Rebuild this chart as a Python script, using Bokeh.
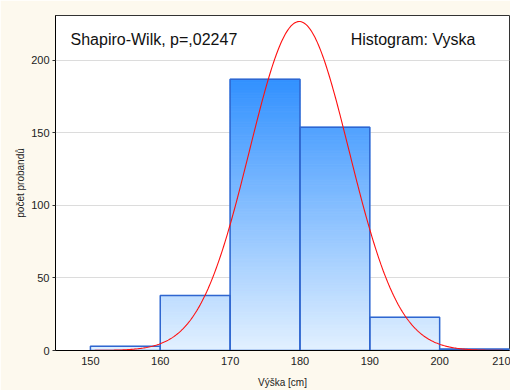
import numpy as np
from bokeh.plotting import figure
from bokeh.models import Label, FixedTicker
from bokeh.embed import file_html
from bokeh.resources import INLINE

# data
bin_left = [150, 160, 170, 180, 190, 200]
bin_right = [160, 170, 180, 190, 200, 210]
counts = [3, 38, 187, 154, 23, 1]
x_ticks = [150, 160, 170, 180, 190, 200, 210]
y_ticks = [0, 50, 100, 150, 200]
fit_mean = 179.9
fit_sd = 7.14
title_left = "Shapiro-Wilk, p=,02247"
title_right = "Histogram: Vyska"
x_label = "Výška [cm]"
y_label = "počet probandů"

FONT = "Liberation Sans"

p = figure(width=510, height=390, x_range=(145, 210), y_range=(0, 231),
           output_backend="svg", toolbar_location=None,
           min_border_left=55, min_border_right=1, min_border_top=15, min_border_bottom=40)
p.border_fill_color = "#fdf9ee"
p.background_fill_color = "white"
p.outline_line_color = "#333333"
p.outline_line_width = 1

p.xgrid.grid_line_color = None
p.ygrid.grid_line_color = "#dcdcdc"
p.ygrid.ticker = FixedTicker(ticks=y_ticks)

# gradient fill: horizontal slices of each bar coloured by height
c0 = np.array([227, 241, 255])
c1 = np.array([48, 144, 255])
def col(v):
    t = min(v / 190.0, 1.0)
    r, g, b = (c0 + (c1 - c0) * t).astype(int)
    return "#%02x%02x%02x" % (r, g, b)

L, R, B, T, C = [], [], [], [], []
for l, r, c in zip(bin_left, bin_right, counts):
    step = 1.0
    y = 0.0
    while y < c:
        top = min(y + step, c)
        L.append(l); R.append(r); B.append(y); T.append(top)
        C.append(col((y + top) / 2))
        y = top
p.quad(left=L, right=R, bottom=B, top=T, fill_color=C, line_color=C, line_width=1)

p.quad(left=bin_left, right=bin_right, bottom=0, top=counts,
       fill_alpha=0, line_color="#2f66d0", line_width=1.5)

xs = np.linspace(145, 210, 400)
n = sum(counts)
ys = n * 10 / (fit_sd * np.sqrt(2 * np.pi)) * np.exp(-0.5 * ((xs - fit_mean) / fit_sd) ** 2)
p.line(xs, ys, line_color="#ff1010", line_width=1.1)

# axes
p.xaxis.ticker = FixedTicker(ticks=x_ticks)
p.yaxis.ticker = FixedTicker(ticks=y_ticks)
for ax in (p.xaxis[0], p.yaxis[0]):
    ax.axis_line_color = "black"
    ax.major_label_text_font = FONT
    ax.major_label_text_font_size = "11px"
    ax.major_label_text_color = "#222222"
    ax.axis_label_text_font = FONT
    ax.axis_label_text_font_size = "10px"
    ax.axis_label_text_font_style = "normal"
    ax.axis_label_text_color = "#222222"
    ax.minor_tick_line_color = None
p.xaxis.major_tick_line_color = None
p.xaxis.major_tick_out = 0
p.xaxis.major_label_standoff = 6
p.xaxis.axis_label = x_label
p.xaxis.axis_label_standoff = 9
p.yaxis.major_tick_out = 3
p.yaxis.major_tick_in = 0
p.yaxis.major_tick_line_color = "#333333"
p.yaxis.major_label_standoff = 3
p.yaxis.axis_label = y_label
p.yaxis.axis_label_standoff = 2

p.add_layout(Label(x=147.15, y=214.7, text=title_left, text_font=FONT,
                   text_font_size="16px", text_baseline="middle", text_color="#111111"))
p.add_layout(Label(x=187.26, y=214.7, text=title_right, text_font=FONT,
                   text_font_size="16px", text_baseline="middle", text_color="#111111"))

open("out.html", "w").write(file_html(p, INLINE))
